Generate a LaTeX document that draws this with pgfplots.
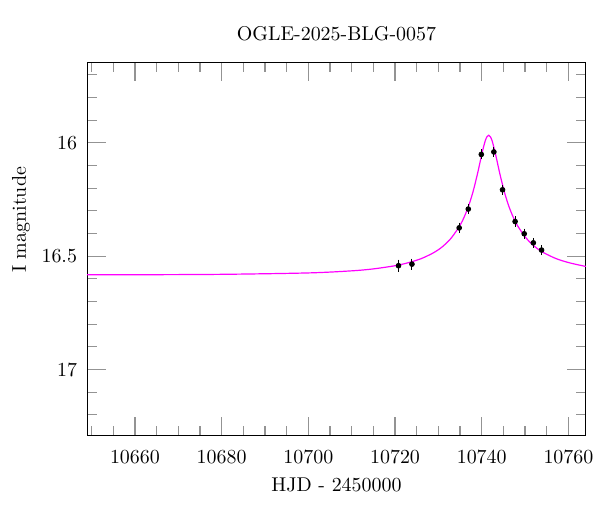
\documentclass[border=0pt]{standalone}
\usepackage{pgfplots}
\pgfplotsset{compat=1.18}
\definecolor{magc}{RGB}{255,0,255}
\begin{document}
\begin{tikzpicture}
\begin{axis}[
  scale only axis, width=250pt, height=187.2pt,
  xmin=10649, xmax=10764, ymin=15.645, ymax=17.292, y dir=reverse,
  scaled ticks=false,
  xtick={10660,10680,...,10760},
  xticklabels={10660,10680,10700,10720,10740,10760},
  minor xtick={10650,10655,...,10765},
  ytick={16,16.5,17},
  yticklabels={16,16.5,17},
  minor ytick={15.7,15.8,15.9,16.1,16.2,16.3,16.4,16.6,16.7,16.8,16.9,17.1,17.2},
  major tick length=9.5pt, minor tick length=4.75pt,
  tick style={gray!85, line width=0.6pt},
  axis line style={black, line width=0.5pt},
  xticklabel style={yshift=-3.5pt},
  yticklabel style={xshift=-1.6pt},
  title={OGLE-2025-BLG-0057},
  title style={at={(axis description cs:0.5,1)}, anchor=center, yshift=8.3pt},
  xlabel={HJD - 2450000},
  xlabel style={at={(axis description cs:0.5,0)}, anchor=center, yshift=-24.5pt},
  ylabel={I magnitude},
  ylabel style={at={(axis description cs:-0.133,0.578)}, anchor=center},
]
\addplot[magc, line width=0.6pt, smooth, tension=0.5, no markers] coordinates {
(10649,16.582) (10660,16.5818) (10680,16.580) (10700,16.5738) (10710,16.5646)
(10715,16.556) (10720,16.542) (10723,16.529) (10726,16.511) (10729,16.4836)
(10731,16.457) (10733,16.419) (10735,16.3635) (10736,16.325) (10737,16.2766)
(10738,16.215) (10739,16.138) (10739.6,16.086) (10740.2,16.0346) (10740.8,15.9914)
(10741.2,15.973) (10741.6,15.9664) (10742.0,15.973) (10742.4,15.9914) (10743.0,16.0346)
(10743.6,16.086) (10744.2,16.138) (10745.2,16.215) (10746.2,16.2766) (10747.2,16.325)
(10748.2,16.3635) (10750.2,16.419) (10752.2,16.457) (10754.2,16.4836) (10757.2,16.511)
(10760.2,16.529) (10763.2,16.542) (10764,16.545)
};
\addplot[only marks, mark=*, mark size=1.2pt, black,
  error bars/.cd, y dir=both, y explicit,
  error bar style={black, line width=0.5pt},
  error mark options={black, mark size=1.4pt, line width=0.5pt}]
coordinates {
(10720.8,16.542) +- (0,0.015)
(10723.9,16.535) +- (0,0.012)
(10734.8,16.375) +- (0,0.011)
(10736.9,16.292) +- (0,0.010)
(10739.9,16.051) +- (0,0.010)
(10742.8,16.040) +- (0,0.010)
(10744.8,16.207) +- (0,0.010)
(10747.7,16.347) +- (0,0.010)
(10749.8,16.401) +- (0,0.010)
(10751.9,16.441) +- (0,0.010)
(10753.8,16.473) +- (0,0.010)
};
\end{axis}
\path (current axis.south west) ++(-43.75pt,-37.5pt) rectangle ++(300pt,256pt);
\end{tikzpicture}
\end{document}
